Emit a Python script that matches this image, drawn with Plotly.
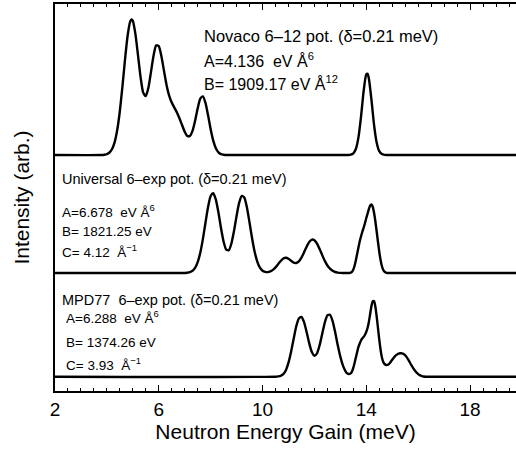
import plotly.graph_objects as go

# ---------------- data ----------------
# Novaco 6-12 potential (top panel)
energy_novaco = [2.0, 3.8, 3.9, 4.0, 4.1, 4.2, 4.3, 4.4, 4.5, 4.6, 4.7, 4.8, 4.9, 4.95, 5.0,
                 5.1, 5.2, 5.3, 5.4, 5.5, 5.6, 5.7, 5.8, 5.9, 6.0, 6.1, 6.2, 6.3, 6.4, 6.5,
                 6.6, 6.7, 6.8, 6.9, 7.0, 7.1, 7.2, 7.3, 7.4, 7.5, 7.6, 7.7, 7.8, 7.9, 8.0,
                 8.1, 8.2, 8.3, 8.4, 8.5, 8.6, 8.8, 13.2, 13.3, 13.4, 13.5, 13.6, 13.7, 13.8,
                 13.9, 14.0, 14.05, 14.1, 14.2, 14.3, 14.4, 14.5, 14.6, 14.7, 14.8, 15.0, 20.0]
intensity_novaco = [0, 0, 0.3, 0.9, 2.5, 6.0, 12.9, 25.2, 44.0, 68.7, 95.8, 119.5, 133.6, 135.5, 134.1,
                    120.9, 99.6, 77.6, 62.4, 58.9, 67.2, 83.1, 99.6, 109.6, 108.9, 98.9, 84.4, 70.1, 59.4, 52.4,
                    47.4, 42.4, 36.5, 29.8, 23.3, 19.1, 19.0, 24.1, 34.3, 46.6, 56.3, 58.6, 52.1, 39.7, 25.8,
                    14.3, 6.7, 2.7, 0.9, 0.3, 0, 0, 0, 0, 0.3, 1.7, 6.3, 18.1, 39.3,
                    64.6, 80.7, 81.2, 76.3, 54.8, 29.8, 12.2, 3.8, 0.9, 0.1, 0, 0, 0]

# Universal 6-exp potential (middle panel)
energy_universal = [2.0, 7.0, 7.1, 7.2, 7.3, 7.4, 7.5, 7.6, 7.7, 7.8, 7.9, 8.0, 8.1, 8.2, 8.3,
                    8.4, 8.5, 8.6, 8.7, 8.8, 8.9, 9.0, 9.1, 9.2, 9.3, 9.4, 9.5, 9.6, 9.7, 9.8,
                    9.9, 10.0, 10.1, 10.2, 10.3, 10.4, 10.5, 10.6, 10.7, 10.8, 10.9, 11.0, 11.1, 11.2, 11.3,
                    11.4, 11.5, 11.6, 11.7, 11.8, 11.9, 12.0, 12.1, 12.2, 12.3, 12.4, 12.5, 12.6, 12.7, 12.8,
                    12.9, 13.0, 13.1, 13.35, 13.4, 13.45, 13.5, 13.55, 13.6, 13.65, 13.7, 13.75, 13.8, 13.85, 13.9,
                    13.95, 14.0, 14.05, 14.1, 14.15, 14.2, 14.25, 14.3, 14.35, 14.4, 14.45, 14.5, 14.55, 14.6, 14.65,
                    14.7, 14.75, 14.8, 15.0, 20.0]
intensity_universal = [0, 0, 0.2, 0.8, 2.2, 5.1, 10.8, 20.3, 33.9, 50.2, 66.0, 77.0, 79.8, 73.4, 60.5,
                       44.8, 31.3, 23.3, 22.8, 29.5, 41.9, 57.1, 70.3, 77.1, 75.3, 65.3, 50.2, 34.3, 20.8, 11.2,
                       5.3, 2.3, 1.2, 0.9, 1.6, 3.1, 5.6, 8.8, 12.0, 14.5, 15.2, 14.2, 12.3, 10.3, 10.0,
                       11.6, 15.4, 20.7, 26.3, 31.0, 33.4, 32.8, 29.3, 24.0, 17.9, 12.1, 7.5, 4.3, 2.2, 1.0,
                       0.4, 0.1, 0, 0, 0.3, 1.2, 3.5, 7.5, 13.0, 19.5, 26.0, 32.0, 37.0, 41.5, 45.5,
                       50.0, 55.0, 59.5, 64.0, 67.5, 68.5, 66.0, 60.0, 51.5, 41.5, 31.0, 21.0, 13.0, 7.0, 3.3,
                       1.3, 0.4, 0, 0, 0]

# MPD77 6-exp potential (bottom panel)
energy_mpd77 = [2.0, 10.5, 10.6, 10.7, 10.8, 10.9, 11.0, 11.1, 11.2, 11.3, 11.4, 11.5, 11.6, 11.7, 11.8,
                11.9, 12.0, 12.1, 12.2, 12.3, 12.4, 12.5, 12.6, 12.7, 12.8, 12.9, 13.0, 13.1, 13.2, 13.25,
                13.3, 13.35, 13.4, 13.45, 13.5, 13.55, 13.6, 13.65, 13.7, 13.75, 13.8, 13.85, 13.9, 13.95, 14.0,
                14.05, 14.1, 14.15, 14.2, 14.25, 14.3, 14.35, 14.4, 14.45, 14.5, 14.55, 14.6, 14.65, 14.7, 14.75,
                14.8, 14.85, 14.9, 14.95, 15.0, 15.05, 15.1, 15.15, 15.2, 15.25, 15.3, 15.35, 15.4, 15.45, 15.5,
                15.55, 15.6, 15.65, 15.7, 15.75, 15.8, 15.85, 15.9, 15.95, 16.0, 16.05, 16.1, 16.15, 16.2, 16.3,
                16.5, 20.0]
intensity_mpd77 = [0, 0, 0.3, 0.8, 2.5, 6.5, 14.0, 25.0, 38.0, 50.5, 58.3, 59.7, 54.6, 44.6, 33.4,
                   24.7, 21.0, 23.4, 31.4, 42.8, 54.1, 61.3, 61.9, 55.6, 44.4, 31.4, 19.8, 11.1, 5.4, 3.6,
                   2.9, 2.8, 3.4, 5.3, 9.0, 14.0, 19.5, 25.0, 30.0, 33.5, 36.5, 38.5, 40.0, 42.0, 45.0,
                   49.0, 55.0, 63.0, 71.0, 75.5, 75.5, 70.0, 60.0, 48.5, 37.0, 27.0, 19.5, 15.0, 12.8, 11.9,
                   11.8, 12.3, 13.5, 15.2, 17.0, 18.8, 20.3, 21.5, 22.5, 23.1, 23.4, 23.4, 23.1, 22.5, 21.4,
                   19.8, 17.8, 15.6, 13.2, 11.0, 8.8, 6.9, 5.2, 3.8, 2.6, 1.7, 1.0, 0.5, 0.2, 0,
                   0, 0]

# vertical offsets of the three stacked spectra (arb. units)
offset_novaco = 236
offset_universal = 118
offset_mpd77 = 14.3

x_ticks = [2, 6, 10, 14, 18]

# ---------------- figure ----------------
W, H = 516, 453
ML, MR, MT, MB = 55, 0, 4, 62
PW, PH = W - ML - MR, H - MT - MB
FONT = "Liberation Sans, Arial, Helvetica, sans-serif"

fig = go.Figure()
for xs, ys, off in [(energy_novaco, intensity_novaco, offset_novaco),
                    (energy_universal, intensity_universal, offset_universal),
                    (energy_mpd77, intensity_mpd77, offset_mpd77)]:
    fig.add_trace(go.Scatter(
        x=xs, y=[v + off for v in ys], mode="lines",
        line=dict(color="black", width=2.4, shape="spline", smoothing=0.6),
        showlegend=False, hoverinfo="skip"))


def px_x(p):
    return (p - ML) / PW


def px_y(p):
    return (H - MB - p) / PH


def note(text, xp, yp, size):
    fig.add_annotation(text=text, x=px_x(xp), y=px_y(yp), xref="paper", yref="paper",
                       xanchor="left", yanchor="middle", showarrow=False,
                       font=dict(family=FONT, size=size, color="black"))


NB = "\u00a0"
note("Novaco 6–12 pot. (δ=0.21 meV)", 202, 36, 16.5)
note("A=4.136" + NB + NB + "eV Å<sup>6</sup>", 202, 60, 16)
note("B= 1909.17 eV Å<sup>12</sup>", 202, 83, 16)

note("Universal 6–exp pot. (δ=0.21 meV)", 60, 179, 14.5)
note("A=6.678" + NB + NB + "eV Å<sup>6</sup>", 60, 211, 13.5)
note("B= 1821.25 eV", 60, 232, 13.5)
note("C= 4.12" + NB + NB + "Å<sup>−1</sup>", 60, 251, 13.5)

note("MPD77" + NB + NB + "6–exp pot. (δ=0.21 meV)", 60, 300, 14.5)
note("A=6.288" + NB + NB + "eV Å<sup>6</sup>", 64, 317, 13.5)
note("B= 1374.26 eV", 64, 342, 13.5)
note("C= 3.93" + NB + NB + "Å<sup>−1</sup>", 64, 364, 13.5)

fig.update_layout(
    width=W, height=H,
    margin=dict(l=ML, r=MR, t=MT, b=MB, pad=0, autoexpand=False),
    paper_bgcolor="white", plot_bgcolor="white",
    font=dict(family=FONT, color="black"),
    xaxis=dict(
        range=[2, 19.77], showgrid=False, zeroline=False, automargin=False,
        showline=True, linecolor="black", linewidth=2, mirror="ticks",
        ticks="inside", tickvals=x_ticks, ticklen=6, tickwidth=1, tickcolor="black",
        minor=dict(dtick=0.5, tick0=2, ticks="inside", ticklen=3, tickwidth=1, tickcolor="black"),
        tickfont=dict(size=19, family=FONT),
        title=dict(text="Neutron Energy Gain (meV)", font=dict(size=21, family=FONT), standoff=2),
    ),
    yaxis=dict(
        range=[0, PH], showgrid=False, zeroline=False, automargin=False,
        showline=True, linecolor="black", linewidth=2, mirror=False,
        ticks="", showticklabels=False,
        title=dict(text="Intensity (arb.)", font=dict(size=21, family=FONT), standoff=18),
    ),
)

fig.write_html("out.html",
               config={"displayModeBar": False, "staticPlot": True},
               post_script="document.body.style.margin='0';document.body.style.padding='0';")
